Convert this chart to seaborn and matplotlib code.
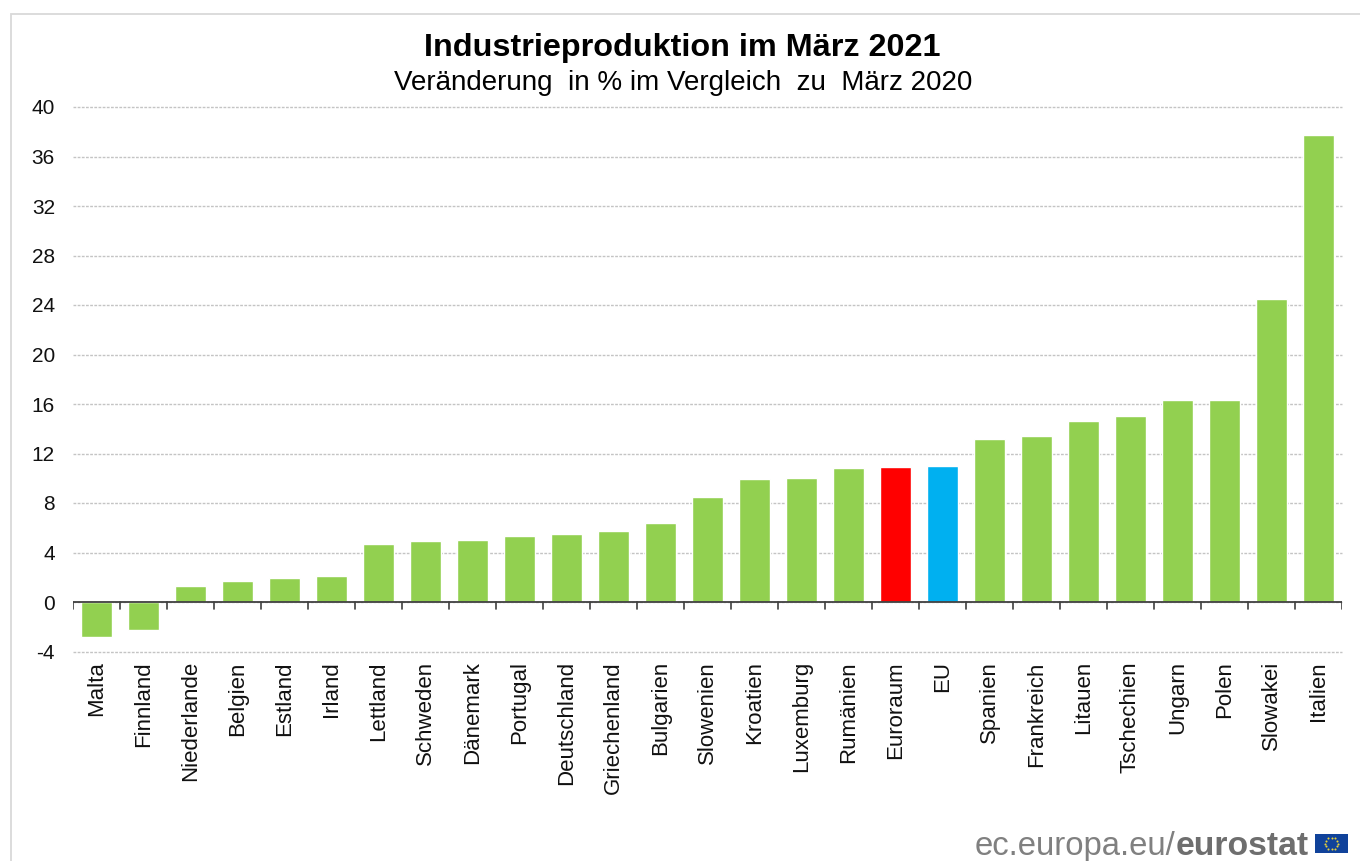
# Industrieproduktion im Maerz 2021 - eurostat bar chart
import numpy as np
import pandas as pd
import matplotlib
matplotlib.use("Agg")
import matplotlib.pyplot as plt
import seaborn as sns
from matplotlib.patches import Rectangle

# ------------------------------------------
# DATA
# ------------------------------------------

countries = ["Malta", "Finnland", "Niederlande", "Belgien", "Estland", "Irland",
             "Lettland", "Schweden", "Dänemark", "Portugal", "Deutschland",
             "Griechenland", "Bulgarien", "Slowenien", "Kroatien", "Luxemburg",
             "Rumänien", "Euroraum", "EU", "Spanien", "Frankreich", "Litauen",
             "Tschechien", "Ungarn", "Polen", "Slowakei", "Italien"]
values = [-2.8, -2.3, 1.3, 1.7, 1.9, 2.1, 4.7, 4.9, 5.0, 5.3, 5.5, 5.7, 6.4, 8.5,
          9.9, 10.0, 10.8, 10.9, 11.0, 13.2, 13.4, 14.6, 15.0, 16.3, 16.3, 24.5, 37.7]
y_ticks = [-4, 0, 4, 8, 12, 16, 20, 24, 28, 32, 36, 40]

GREEN = "#92D050"
colors = {c: GREEN for c in countries}
colors["Euroraum"] = "#FF0000"
colors["EU"] = "#00B0F0"

df = pd.DataFrame({"Land": countries, "Wert": values})

# ------------------------------------------
# FIGURE
# ------------------------------------------

W, H = 1360, 861
sns.set_theme(style="white")
plt.rcParams["font.family"] = ["Liberation Sans", "DejaVu Sans"]

fig = plt.figure(figsize=(W / 100, H / 100), dpi=100)
ax = fig.add_axes([73 / W, 1 - 651.5 / H, (1342 - 73) / W, (651.5 - 107) / H])

sns.barplot(data=df, x="Land", y="Wert", hue="Land", palette=colors, legend=False,
            width=0.68, saturation=1, ax=ax)

ax.set_xlim(-0.5, len(countries) - 0.5)
ax.set_ylim(-4, 40)
ax.set_xlabel("")
ax.set_ylabel("")
ax.set_yticks(y_ticks)
ax.set_yticklabels([str(t) for t in y_ticks])
ax.yaxis.grid(True, color="#c4c4c4", linestyle=(0, (2, 1)), linewidth=1, clip_on=False)
ax.set_axisbelow(True)
ax.tick_params(axis="y", length=0, labelsize=15, pad=13, labelcolor="#111111")
ax.tick_params(axis="x", length=0, labelsize=16, pad=7, labelcolor="#111111", labelrotation=90)

for side in ["top", "right", "left", "bottom"]:
    ax.spines[side].set_visible(False)

# zero line with ticks hanging down, labels stay below the -4 line
ax.axhline(0, color="#404040", linewidth=1.3, zorder=5)
for i in range(len(countries) + 1):
    ax.plot([i - 0.5, i - 0.5], [0, -0.6], color="#404040", linewidth=1.2, zorder=5)

fig.text(682 / W, 1 - 48 / H, "Industrieproduktion im März 2021", ha="center", va="center",
         fontsize=23.3, fontweight="bold", color="#000000")
fig.text(683 / W, 1 - 83.5 / H, "Veränderung  in % im Vergleich  zu  März 2020", ha="center",
         va="center", fontsize=20, color="#000000")

# outer frame, open at the right and bottom edge
fig.add_artist(Rectangle((10.5 / W, -0.02), 1.1, 1.02 - 13.5 / H, transform=fig.transFigure,
                         fill=False, edgecolor="#d9d9d9", linewidth=1.3))

# eurostat logo
fig.text(975 / W, 1 - 855 / H, "ec.europa.eu/", ha="left", va="baseline",
         fontsize=23.7, color="#808080")
fig.text(1176 / W, 1 - 855 / H, "eurostat", ha="left", va="baseline",
         fontsize=24.3, fontweight="bold", color="#6e6e6e")

flag = fig.add_axes([1315 / W, 1 - 853 / H, 33 / W, 19 / H])
flag.set_facecolor("#10429a")
flag.set_xlim(-1.65, 1.65)
flag.set_ylim(-1, 1)
flag.set_xticks([])
flag.set_yticks([])
for s in flag.spines.values():
    s.set_visible(False)
ang = np.arange(12) * np.pi / 6
flag.scatter(0.62 * np.cos(ang), 0.62 * np.sin(ang), s=2.2, color="#e8d23a", linewidths=0)

fig.savefig("out.png", dpi=100)
